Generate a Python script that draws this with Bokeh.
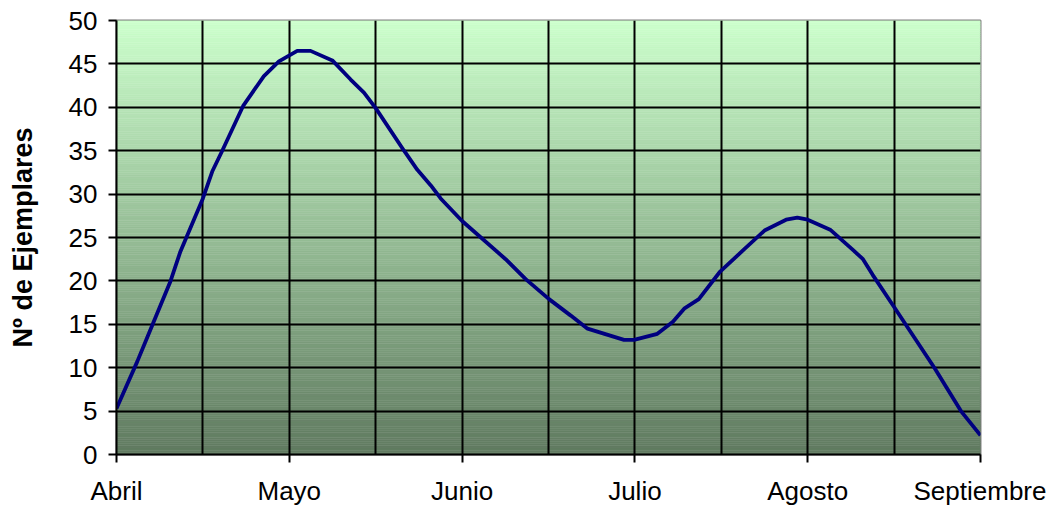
from bokeh.plotting import figure
from bokeh.embed import file_html
from bokeh.resources import INLINE
from bokeh.models import FixedTicker, Range1d

# Data (x in months after start of April; 0=Abril ... 5=Septiembre)
month_labels = ["Abril", "Mayo", "Junio", "Julio", "Agosto", "Septiembre"]
month_pos = [0, 1, 2, 3, 4, 5]
x_vals = [0.0, 0.12, 0.207, 0.313, 0.37, 0.50, 0.554, 0.612, 0.734, 0.853, 0.94,
          1.046, 1.123, 1.249, 1.355, 1.432, 1.50, 1.664, 1.741, 1.819, 1.876,
          2.0, 2.252, 2.368, 2.503, 2.629, 2.726, 2.937, 2.995, 3.13, 3.22,
          3.285, 3.37, 3.49, 3.63, 3.75, 3.875, 3.94, 4.0, 4.13, 4.26, 4.32,
          4.376, 4.5, 4.733, 4.887, 5.0]
y_vals = [5.3, 10.7, 14.9, 20.0, 23.4, 29.5, 32.6, 35.0, 40.2, 43.6, 45.3,
          46.5, 46.5, 45.4, 43.2, 41.7, 39.9, 35.0, 32.8, 31.0, 29.5,
          26.9, 22.5, 20.2, 17.9, 16.0, 14.5, 13.2, 13.2, 13.9, 15.3,
          16.8, 17.9, 21.0, 23.6, 25.8, 27.05, 27.3, 27.05, 25.9, 23.6, 22.5,
          20.7, 17.0, 10.0, 5.0, 2.2]
y_ticks = [0, 5, 10, 15, 20, 25, 30, 35, 40, 45, 50]

FONT = "Liberation Sans"

p = figure(width=1046, height=508, output_backend="svg", toolbar_location=None,
           x_range=Range1d(0, 5), y_range=Range1d(0, 50),
           min_border_left=116, min_border_right=66, min_border_top=20,
           min_border_bottom=49)
p.background_fill_color = "white"
p.border_fill_color = "white"
p.outline_line_color = "#808080"
p.outline_line_width = 2

# gradient background stripes
top_c = (204, 255, 204)
bot_c = (96, 122, 96)
n = 200
bottoms, tops, cols = [], [], []
for i in range(n):
    t = (i + 0.5) / n
    c = tuple(int(round(bot_c[k] + (top_c[k] - bot_c[k]) * t)) for k in range(3))
    bottoms.append(50 * i / n)
    tops.append(50 * (i + 1) / n)
    cols.append("#%02x%02x%02x" % c)
r = p.quad(left=0, right=5, bottom=bottoms, top=tops, fill_color=cols, line_color=cols, line_width=0.5)
r.level = "image"

p.line(x_vals, y_vals, line_color="#000080", line_width=3.8)

# grids
p.xgrid.ticker = FixedTicker(ticks=[0.5, 1, 1.5, 2, 2.5, 3, 3.5, 4, 4.5])
p.ygrid.ticker = FixedTicker(ticks=[5, 10, 15, 20, 25, 30, 35, 40, 45])
for g in (p.xgrid, p.ygrid):
    g.grid_line_color = "black"
    g.grid_line_width = 2

# axes
p.xaxis.ticker = FixedTicker(ticks=month_pos)
p.xaxis.major_label_overrides = {m: l for m, l in zip(month_pos, month_labels)}
p.yaxis.ticker = FixedTicker(ticks=y_ticks)
for ax in (p.xaxis[0], p.yaxis[0]):
    ax.axis_line_color = "black"
    ax.axis_line_width = 2
    ax.major_tick_line_color = "black"
    ax.major_tick_line_width = 2
    ax.major_tick_out = 8
    ax.major_tick_in = 0
    ax.minor_tick_line_color = None
    ax.major_label_text_font = FONT
    ax.major_label_text_font_size = "26px"
    ax.major_label_text_color = "black"
p.xaxis.major_label_standoff = 13
p.yaxis.major_label_standoff = 11
p.yaxis.axis_label = "Nº de Ejemplares"
p.yaxis.axis_label_text_font = FONT
p.yaxis.axis_label_text_font_style = "bold"
p.yaxis.axis_label_text_font_size = "27px"
p.yaxis.axis_label_text_color = "black"
p.yaxis.axis_label_standoff = 28

open("out.html", "w").write(file_html(p, INLINE))
